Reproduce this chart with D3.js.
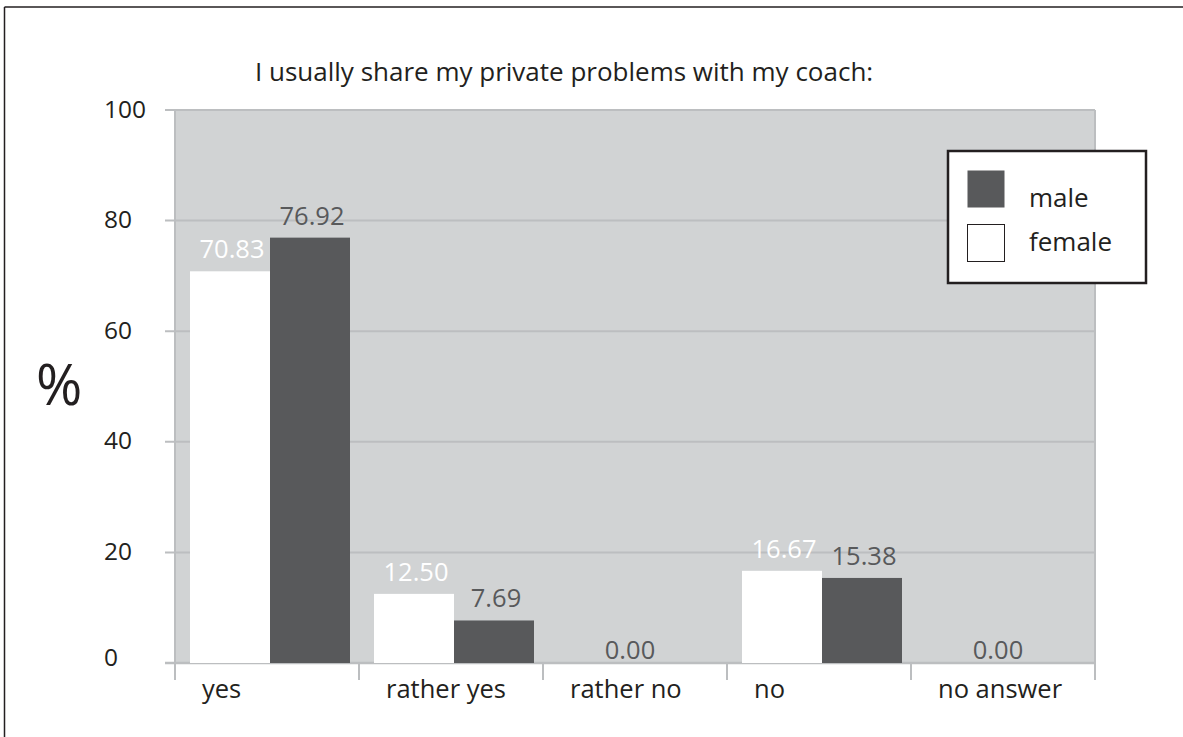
<!DOCTYPE html>
<html>
<head>
<meta charset="utf-8">
<script src="https://cdn.jsdelivr.net/npm/d3@7"></script>
<style>
  html, body { margin: 0; padding: 0; background: #fff; }
  svg { display: block; font-family: "Open Sans", "Noto Sans", sans-serif; }
</style>
</head>
<body>
<svg id="chart" width="1183" height="737"></svg>
<script>
// Survey answers, share of respondents in percent
const categories = ["yes", "rather yes", "rather no", "no", "no answer"];
const femaleValues = [70.83, 12.50, 0.00, 16.67, 0.00];
const maleValues = [76.92, 7.69, 0.00, 15.38, 0.00];
const seriesNames = ["female", "male"];
const yTicks = [0, 20, 40, 60, 80, 100];
const title = "I usually share my private problems with my coach:";
const yLabel = "%";

const svg = d3.select("#chart");
const W = 1183, H = 737;

const plot = { left: 175, right: 1095, top: 110, bottom: 663 };

const ink = "#231f20";
const plotBg = "#d1d3d4";
const gridCol = "#bcbec0";
const maleCol = "#58595b";

// outer frame: top and left rules only
svg.append("line").attr("x1", 4.5).attr("x2", W).attr("y1", 7).attr("y2", 7)
  .attr("stroke", ink).attr("stroke-width", 1.5);
svg.append("line").attr("x1", 4.5).attr("x2", 4.5).attr("y1", 7).attr("y2", H)
  .attr("stroke", ink).attr("stroke-width", 1.5);

const y = d3.scaleLinear().domain([0, 100]).range([plot.bottom, plot.top]);
const x0 = d3.scaleBand().domain(categories).range([plot.left, plot.right]);
const x1 = d3.scaleBand().domain(seriesNames).range([15, 175]);

// plot background
svg.append("rect")
  .attr("x", plot.left).attr("y", plot.top)
  .attr("width", plot.right - plot.left).attr("height", plot.bottom - plot.top)
  .attr("fill", plotBg);

// horizontal gridlines with short ticks to the left
svg.append("g").selectAll("line").data(yTicks).join("line")
  .attr("x1", plot.left - 10).attr("x2", plot.right)
  .attr("y1", d => y(d)).attr("y2", d => y(d))
  .attr("stroke", gridCol).attr("stroke-width", d => d === 0 ? 2.5 : 2);

// y tick labels
svg.append("g").selectAll("text").data(yTicks).join("text")
  .attr("x", 104).attr("y", d => y(d) + (d === 0 ? -6 : -1))
  .attr("dy", "0.35em")
  .attr("font-size", 24.5).attr("fill", ink)
  .text(d => d);

// vertical axis lines at the left and right edges, plus category separators
const sepX = categories.map(c => x0(c)).concat([plot.right]);
svg.append("g").selectAll("line").data(sepX).join("line")
  .attr("x1", d => d).attr("x2", d => d)
  .attr("y1", (d, i) => (i === 0 || i === sepX.length - 1) ? plot.top : plot.bottom)
  .attr("y2", plot.bottom + 17)
  .attr("stroke", gridCol).attr("stroke-width", 2);

// bars
const rows = categories.map((c, i) => ({ cat: c, female: femaleValues[i], male: maleValues[i] }));
const group = svg.append("g").selectAll("g").data(rows).join("g")
  .attr("transform", d => `translate(${x0(d.cat)},0)`);

group.selectAll("rect").data(d => seriesNames.map(k => ({ key: k, value: d[k] }))).join("rect")
  .attr("x", d => x1(d.key))
  .attr("width", x1.bandwidth())
  .attr("y", d => y(d.value))
  .attr("height", d => y(0) - y(d.value))
  .attr("fill", d => d.key === "male" ? maleCol : "#fff");

// value labels; a category with no answers gets a single centred label
const fmt = d3.format(".2f");
group.each(function (d) {
  const g = d3.select(this);
  if (d.female === 0 && d.male === 0) {
    g.append("text")
      .attr("x", x0.bandwidth() / 2 - 5).attr("y", y(0) - 4)
      .attr("text-anchor", "middle").attr("font-size", 25.5).attr("fill", maleCol)
      .text(fmt(0));
    return;
  }
  seriesNames.forEach(k => {
    g.append("text")
      .attr("x", x1(k) + x1.bandwidth() / 2 + 2)
      .attr("y", y(d[k]) - 13)
      .attr("text-anchor", "middle").attr("font-size", 25.5)
      .attr("fill", k === "male" ? maleCol : "#fff")
      .text(fmt(d[k]));
  });
});

// category labels
svg.append("g").selectAll("text").data(categories).join("text")
  .attr("x", d => x0(d) + 27).attr("y", 698)
  .attr("font-size", 25.5).attr("fill", ink)
  .text(d => d);

// title
svg.append("text").attr("x", 255).attr("y", 81)
  .attr("font-size", 26).attr("fill", ink).text(title);

// y axis label
svg.append("text").attr("x", 36).attr("y", 405)
  .attr("font-size", 56).attr("fill", ink).text(yLabel);

// legend
const lg = svg.append("g");
lg.append("rect").attr("x", 948).attr("y", 151).attr("width", 198).attr("height", 132)
  .attr("fill", "#fff").attr("stroke", ink).attr("stroke-width", 2.5);
const legendItems = ["male", "female"];
lg.selectAll("rect.sw").data(legendItems).join("rect").attr("class", "sw")
  .attr("x", 967.5).attr("y", (d, i) => 170.5 + i * 54)
  .attr("width", 37).attr("height", 37)
  .attr("fill", d => d === "male" ? maleCol : "#fff")
  .attr("stroke", d => d === "male" ? "none" : ink).attr("stroke-width", 1);
lg.selectAll("text").data(legendItems).join("text")
  .attr("x", 1029).attr("y", (d, i) => 207 + i * 44)
  .attr("font-size", 26).attr("fill", ink).text(d => d);
</script>
</body>
</html>
